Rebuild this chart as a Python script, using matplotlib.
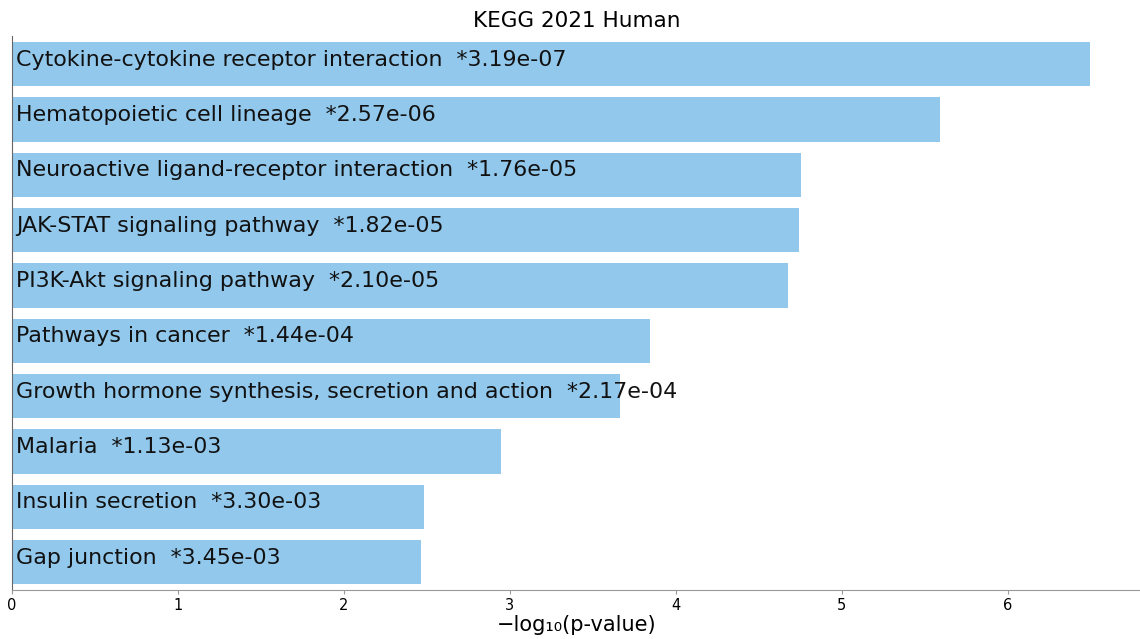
import numpy as np
import matplotlib.pyplot as plt

terms = [
    "Cytokine-cytokine receptor interaction",
    "Hematopoietic cell lineage",
    "Neuroactive ligand-receptor interaction",
    "JAK-STAT signaling pathway",
    "PI3K-Akt signaling pathway",
    "Pathways in cancer",
    "Growth hormone synthesis, secretion and action",
    "Malaria",
    "Insulin secretion",
    "Gap junction",
]
pvals = [3.19e-07, 2.57e-06, 1.76e-05, 1.82e-05, 2.10e-05,
         1.44e-04, 2.17e-04, 1.13e-03, 3.30e-03, 3.45e-03]

scores = -np.log10(pvals)
ypos = np.arange(len(terms))[::-1]

fig = plt.figure(figsize=(11.4, 6.39), dpi=100)
ax = fig.add_axes([0.0105, 0.077, 0.99, 0.866])

ax.barh(ypos, scores, height=0.8, color="#92c8ec")
for y, term, p in zip(ypos, terms, pvals):
    ax.text(0.025, y + 0.08, f"{term}  *{p:.2e}", va="center", ha="left",
            fontsize=15.9, color="#111111")

ax.set_xlim(0, 6.8)
ax.set_ylim(-0.5, len(terms) - 0.5)
ax.set_yticks([])
ax.set_xticks(range(7))
ax.tick_params(axis="x", labelsize=10.5, length=3, color="#999999", pad=3)
ax.spines["top"].set_visible(False)
ax.spines["right"].set_visible(False)
ax.spines["left"].set_color("#666666")
ax.spines["bottom"].set_color("#999999")
ax.set_xlabel("\u2212log\u2081\u2080(p-value)", fontsize=15, labelpad=1)
ax.set_title("KEGG 2021 Human", fontsize=15.5, pad=7)

fig.savefig("out.png", dpi=100)
